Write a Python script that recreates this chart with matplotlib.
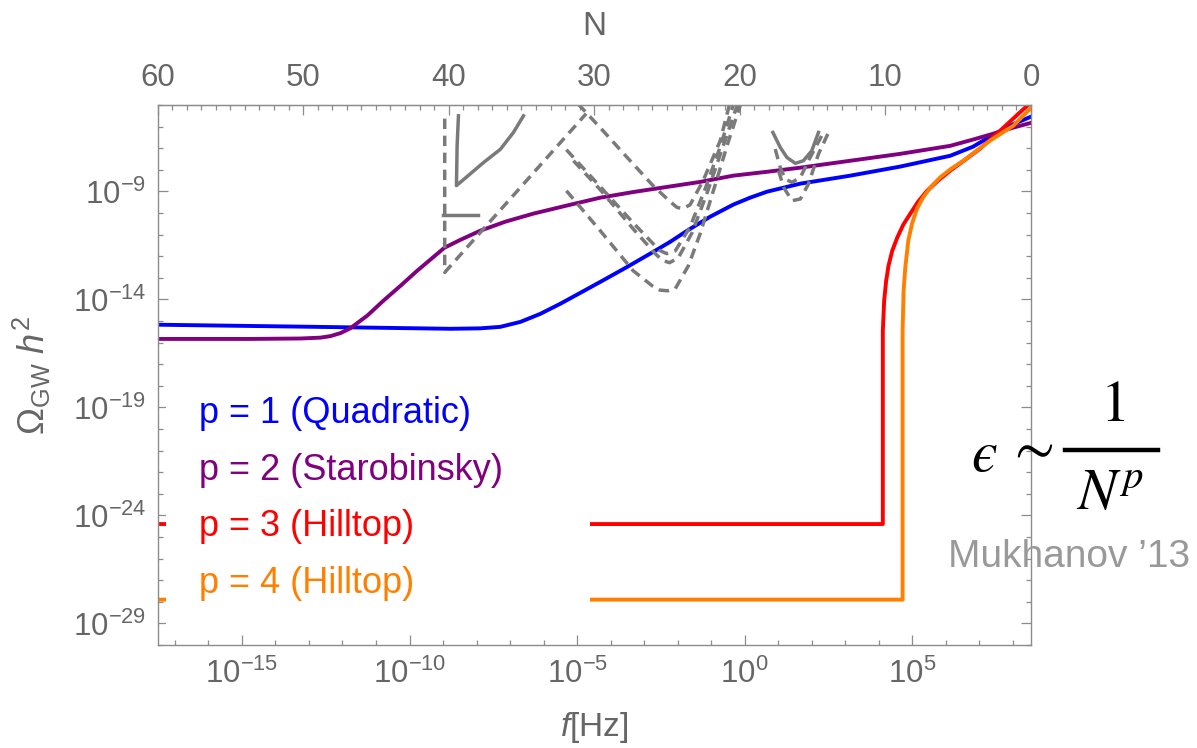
import numpy as np
import matplotlib.pyplot as plt
from matplotlib.lines import Line2D
from matplotlib.patches import Rectangle
from matplotlib.ticker import FixedLocator, FuncFormatter, NullFormatter

plt.rcParams['font.family'] = ['Liberation Sans', 'DejaVu Sans']
plt.rcParams['mathtext.fontset'] = 'custom'
plt.rcParams['mathtext.rm'] = 'Liberation Sans'
plt.rcParams['mathtext.it'] = 'Liberation Sans:italic'
plt.rcParams['mathtext.bf'] = 'Liberation Sans:bold'

# right edge of the frequency window is the end of inflation (N = 0);
# the left edge sits 60 e-folds earlier
LOG_F_END = 8.54
N_MAX = 60
F_END = 10 ** LOG_F_END
LOG_F_MIN = LOG_F_END - N_MAX / np.log(10)

# --- inflationary spectra: log10 f [Hz], log10 Omega_GW h^2 ---
quad_logf = [-17.6, -13.26, -8.78, -7.89, -7.29, -6.69, -6.10, -5.50, -4.91, -4.31,
             -3.50, -2.73, -2.22, -1.72, -1.03, -0.34, 0.16, 0.67, 1.66, 3.15,
             4.64, 6.13, 6.81, 7.41, 7.98, 8.60]
quad_logO = [-15.17, -15.26, -15.36, -15.34, -15.27, -15.04, -14.67, -14.20, -13.70, -13.19,
             -12.49, -11.80, -11.33, -10.82, -10.17, -9.61, -9.29, -9.01, -8.64, -8.27,
             -7.85, -7.35, -6.93, -6.38, -5.91, -5.50]

staro_logf = [-17.6, -14.75, -13.26, -12.66, -12.36, -12.06, -11.77, -11.26, -10.78, -10.27,
              -9.77, -9.38, -8.96, -8.48, -7.89, -7.14, -6.31, -5.35, -4.31, -3.33,
              -2.31, -1.33, -0.34, 0.67, 1.66, 3.15, 4.64, 6.13, 6.81, 7.41, 7.98, 8.60]
staro_logO = [-15.83, -15.83, -15.81, -15.77, -15.70, -15.56, -15.34, -14.75, -14.06, -13.37,
              -12.67, -12.16, -11.61, -11.24, -10.82, -10.40, -10.03, -9.67, -9.29, -9.03,
              -8.79, -8.56, -8.27, -8.09, -7.90, -7.58, -7.26, -6.89, -6.60, -6.33, -6.06, -5.80]

hill3_logf = [-17.6, 4.12, 4.12, 4.16, 4.22, 4.29, 4.40, 4.55, 4.73, 4.94, 5.17,
              5.44, 5.77, 6.13, 6.58, 7.02, 7.62, 8.21, 8.66]
hill3_logO = [-24.40, -24.40, -15.45, -14.06, -13.13, -12.44, -11.75, -11.14, -10.54, -10.03, -9.48,
              -8.97, -8.50, -8.04, -7.53, -7.02, -6.19, -5.34, -4.71]

hill4_logf = [-17.6, 4.71, 4.71, 4.74, 4.79, 4.88, 4.99, 5.14, 5.32, 5.56, 5.83,
              6.16, 6.52, 6.91, 7.32, 8.01, 8.67]
hill4_logO = [-27.90, -27.90, -15.45, -13.60, -12.53, -11.28, -10.50, -9.80, -9.28, -8.78, -8.35,
              -7.95, -7.58, -7.12, -6.65, -5.96, -4.94]

models = [
    ('p = 1 (Quadratic)', quad_logf, quad_logO, '#0000ff'),
    ('p = 2 (Starobinsky)', staro_logf, staro_logO, '#800080'),
    ('p = 3 (Hilltop)', hill3_logf, hill3_logO, '#ff0000'),
    ('p = 4 (Hilltop)', hill4_logf, hill4_logO, '#ff8000'),
]

# --- detector sensitivity curves: log10 f, log10 Omega ---
pta_logf = [-8.95, -8.95, -4.73]
pta_logO = [-5.63, -12.75, -5.40]

ska_logf = [-8.54, -8.58, -8.60, -7.79, -7.29, -6.90, -6.60]
ska_logO = [-5.50, -6.88, -8.73, -7.66, -7.05, -6.27, -5.50]

pta_bound_logf = [-8.99, -7.95]
pta_bound_logO = [-10.08, -10.08]

space_a_logf = [-4.97, -4.31, -3.50, -2.73, -2.22, -2.02, -1.85, -1.63, -1.24, -0.73, -0.45]
space_a_logO = [-4.95, -6.05, -7.44, -8.74, -9.48, -9.74, -9.80, -9.62, -8.50, -6.65, -4.95]

lisa_a_logf = [-5.32, -4.31, -3.33, -2.82, -2.55, -2.33, -2.07, -1.63, -1.18, -0.73, -0.34]
lisa_a_logO = [-7.07, -8.78, -10.45, -11.28, -11.72, -11.88, -11.75, -10.64, -8.88, -6.93, -4.99]

lisa_b_logf = [-5.11, -4.31, -3.33, -2.67, -2.45, -2.24, -1.98, -1.57, -1.12, -0.67, -0.22]
lisa_b_logO = [-7.58, -8.92, -10.73, -11.88, -12.20, -12.30, -12.07, -10.91, -9.06, -7.02, -4.99]

lisa_c_logf = [-5.32, -4.31, -3.33, -2.76, -2.53, -2.30, -2.07, -1.68, -1.33, -0.89, -0.50, -0.13]
lisa_c_logO = [-8.97, -10.82, -12.67, -13.37, -13.57, -13.60, -13.50, -12.44, -10.96, -8.74, -6.75, -4.99]

ligo_logf = [0.84, 1.06, 1.26, 1.51, 1.75, 2.00, 2.20]
ligo_logO = [-6.27, -6.96, -7.43, -7.70, -7.58, -7.12, -6.27]

ligo_b_logf = [0.91, 1.06, 1.21, 1.41, 1.66, 1.95, 2.35]
ligo_b_logO = [-7.04, -7.89, -8.43, -8.58, -8.35, -7.43, -6.27]

ligo_c_logf = [1.01, 1.16, 1.41, 1.66, 1.90, 2.20, 2.50]
ligo_c_logO = [-8.04, -8.81, -9.43, -9.35, -8.66, -7.27, -6.27]

detectors = [
    (pta_logf, pta_logO, 'dashed'),
    (ska_logf, ska_logO, 'solid'),
    (pta_bound_logf, pta_bound_logO, 'solid'),
    (space_a_logf, space_a_logO, 'dashed'),
    (lisa_a_logf, lisa_a_logO, 'dashed'),
    (lisa_b_logf, lisa_b_logO, 'dashed'),
    (lisa_c_logf, lisa_c_logO, 'dashed'),
    (ligo_logf, ligo_logO, 'solid'),
    (ligo_b_logf, ligo_b_logO, 'dashed'),
    (ligo_c_logf, ligo_c_logO, 'dashed'),
]

x_major = [-15, -10, -5, 0, 5]
y_major = [-29, -24, -19, -14, -9]
n_major = [60, 50, 40, 30, 20, 10, 0]

frame_col = '#8c8c8c'
label_col = '#666666'
gray = '#7a7a7a'

fig = plt.figure(figsize=(11.97, 7.48), dpi=100)
ax = fig.add_axes([0.1316, 0.1377, 0.7297, 0.7219])

for label, lf, lo, col in models:
    ax.plot(10.0 ** np.array(lf), 10.0 ** np.array(lo), color=col, lw=2.8,
            solid_joinstyle='round', zorder=2)

for lf, lo, ls in detectors:
    style = (0, (3.0, 1.9)) if ls == 'dashed' else '-'
    ax.plot(10.0 ** np.array(lf), 10.0 ** np.array(lo), color=gray, lw=2.5,
            linestyle=style, solid_joinstyle='round', zorder=2.5)

ax.set_xscale('log')
ax.set_yscale('log')
ax.set_xlim(10 ** LOG_F_MIN, F_END)
ax.set_ylim(1e-30, 1e-5)

ax.xaxis.set_major_locator(FixedLocator([10.0 ** e for e in x_major]))
ax.xaxis.set_minor_locator(FixedLocator([10.0 ** e for e in range(-17, 9)]))
ax.yaxis.set_major_locator(FixedLocator([10.0 ** e for e in y_major]))
ax.yaxis.set_minor_locator(FixedLocator([10.0 ** e for e in range(-30, -4)]))
pow_fmt = FuncFormatter(lambda v, pos: '10$^{%d}$' % round(np.log10(v)))
ax.xaxis.set_major_formatter(pow_fmt)
ax.yaxis.set_major_formatter(pow_fmt)
ax.xaxis.set_minor_formatter(NullFormatter())
ax.yaxis.set_minor_formatter(NullFormatter())

ax.tick_params(which='both', direction='in', color=frame_col, width=0.9,
               top=False, right=True, labelsize=22.5, labelcolor=label_col)
ax.tick_params(which='major', length=7)
ax.tick_params(which='minor', length=3.5)
ax.tick_params(axis='x', pad=10)
ax.tick_params(axis='y', pad=8)
for sp in ax.spines.values():
    sp.set_color(frame_col)
    sp.set_linewidth(1.0)

ax.set_xlabel('$f$[Hz]', fontsize=24, color=label_col, labelpad=14)
ax.set_ylabel(r'$\Omega_{\mathrm{GW}}\ h^2$', fontsize=26, color=label_col, labelpad=14)


# e-folds before the end of inflation on the top axis
def f_to_N(f):
    with np.errstate(divide='ignore', invalid='ignore'):
        return np.log(F_END / np.asarray(f, dtype=float))


def N_to_f(n):
    return F_END * np.exp(-np.asarray(n, dtype=float))


secax = ax.secondary_xaxis('top', functions=(f_to_N, N_to_f))
secax.xaxis.set_major_locator(FixedLocator(n_major))
secax.xaxis.set_minor_locator(FixedLocator(list(range(0, N_MAX + 1))))
secax.xaxis.set_major_formatter(FuncFormatter(lambda v, pos: '%d' % round(v)))
secax.xaxis.set_minor_formatter(NullFormatter())
secax.tick_params(which='both', direction='in', color=frame_col, width=0.9,
                  labelsize=22.5, labelcolor=label_col, pad=9)
secax.tick_params(which='major', length=7)
secax.tick_params(which='minor', length=3.5)
secax.spines['top'].set_color(frame_col)
secax.set_xlabel('N', fontsize=24, color=label_col, labelpad=20)

# white key box with coloured model names
ax.add_patch(Rectangle((0.0097, 0.027), 0.4853, 0.454, transform=ax.transAxes,
                       facecolor='white', edgecolor='none', zorder=3))
for i, (label, lf, lo, col) in enumerate(models):
    ax.text(0.0475, 0.4289 - i * 0.105, label, transform=ax.transAxes, color=col,
            fontsize=26, ha='left', va='center', zorder=4)

# slow-roll scaling  eps ~ 1 / N^p
eq = dict(fontsize=42, math_fontfamily='stix', color='black', ha='center', va='center')
fig.text(984 / 1197, 1 - 456 / 748, '$\u03f5$', **eq)
fig.text(1030 / 1197, 1 - 450 / 748, r'$\sim$', **eq)
fig.text(1112 / 1197, 1 - 406 / 748, r'$\mathrm{1}$', **eq)
fig.text(1110 / 1197, 1 - 494 / 748, r'$N^{p}$', **eq)
fig.add_artist(Line2D([1065 / 1197, 1158 / 1197], [1 - 450 / 748, 1 - 450 / 748],
                      color='black', lw=3.2, transform=fig.transFigure))
fig.text(0.893, 0.2553, 'Mukhanov \u201913', fontsize=28, color='#999999',
         ha='center', va='center')

fig.savefig('out.png', dpi=100)
